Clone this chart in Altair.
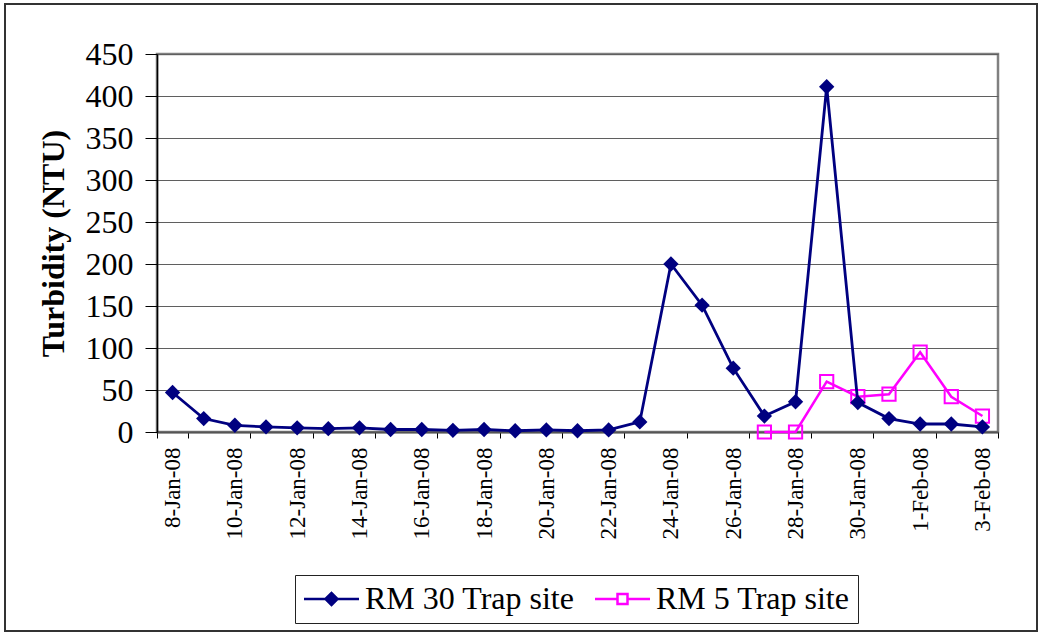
import altair as alt
import pandas as pd

# ---- data ----
dates = [
    "8-Jan-08", "9-Jan-08", "10-Jan-08", "11-Jan-08", "12-Jan-08", "13-Jan-08",
    "14-Jan-08", "15-Jan-08", "16-Jan-08", "17-Jan-08", "18-Jan-08", "19-Jan-08",
    "20-Jan-08", "21-Jan-08", "22-Jan-08", "23-Jan-08", "24-Jan-08", "25-Jan-08",
    "26-Jan-08", "27-Jan-08", "28-Jan-08", "29-Jan-08", "30-Jan-08", "31-Jan-08",
    "1-Feb-08", "2-Feb-08", "3-Feb-08",
]
rm30 = [47, 16, 8, 6, 5, 4, 5, 3, 3, 2, 3, 1.5, 2.5, 1.5, 2.5, 12, 200, 151,
        76, 19, 36, 411, 35, 16, 9.5, 9.5, 6]
rm5 = [None] * 19 + [0, 0, 60, 42, 45, 95, 42, 19]
series_names = ["RM 30 Trap site", "RM 5 Trap site"]
series_colors = ["#000080", "#FF00FF"]
y_ticks = [0, 50, 100, 150, 200, 250, 300, 350, 400, 450]
x_label_dates = dates[::2]

rows = []
for d, a, b in zip(dates, rm30, rm5):
    rows.append({"date": d, "series": series_names[0], "value": a})
    if b is not None:
        rows.append({"date": d, "series": series_names[1], "value": b})
df = pd.DataFrame(rows)

x_enc = alt.X(
    "date:O",
    sort=dates,
    bandPosition=0.5,
    scale=alt.Scale(type="band", domain=dates, paddingInner=0, paddingOuter=0),
    axis=alt.Axis(
        title=None, values=x_label_dates, labelAngle=270, labelFontSize=23,
        labelColor="black", tickBand="extent", tickSize=6, tickColor="black",
        labelPadding=9, domainColor="#555555", domainWidth=2,
    ),
)
y_enc = alt.Y(
    "value:Q",
    scale=alt.Scale(domain=[0, 450], nice=False, zero=True),
    axis=alt.Axis(
        values=y_ticks, title="Turbidity (NTU)", titleFontSize=32,
        titleFontWeight="bold", titleColor="black", labelFontSize=32,
        labelColor="black", tickSize=12, tickColor="black", labelPadding=12,
        grid=True, gridColor="#5f5f5f", gridWidth=1, domainColor="black",
        domainWidth=1.5, titleX=-94, titleY=189, titleAngle=270,
        titleAlign="center", titleBaseline="alphabetic",
    ),
)

base = alt.Chart(df).encode(x=x_enc, y=y_enc)

line5 = base.transform_filter(alt.datum.series == series_names[1]).mark_line(
    color=series_colors[1], strokeWidth=2.5)
pts5 = base.transform_filter(alt.datum.series == series_names[1]).mark_point(
    shape="square", filled=False, color=series_colors[1], size=175,
    strokeWidth=2, opacity=1)
line30 = base.transform_filter(alt.datum.series == series_names[0]).mark_line(
    color=series_colors[0], strokeWidth=2.8)
pts30 = base.transform_filter(alt.datum.series == series_names[0]).mark_point(
    shape="diamond", filled=True, color=series_colors[0], size=235, opacity=1)

# legend symbols: a short line with the marker in its middle (unit = 10 px)
path30 = "M-1.5,0H0.65M1.85,0H4M0.65,0L1.25,-0.6L1.85,0L1.25,0.6Z"
path5 = "M-1.5,0H0.75M1.75,0H4M0.75,-0.5H1.75V0.5H0.75Z"

legend_layer = (
    alt.Chart(df)
    .transform_filter("false")
    .mark_point(filled=True, opacity=1, strokeWidth=2.5)
    .encode(
        x=x_enc,
        y=y_enc,
        shape=alt.Shape("series:N", title=None,
                        scale=alt.Scale(domain=series_names, range=[path30, path5])),
        stroke=alt.Stroke("series:N", title=None,
                          scale=alt.Scale(domain=series_names, range=series_colors)),
        fill=alt.Fill("series:N", title=None,
                      scale=alt.Scale(domain=series_names, range=[series_colors[0], "white"])),
    )
)

border = alt.Chart(pd.DataFrame({"k": [0]})).mark_rect(
    filled=False, stroke="#333333", strokeWidth=2
).encode(x=alt.value(-152), x2=alt.value(880), y=alt.value(-50), y2=alt.value(577))

chart = (
    alt.layer(border, line5, pts5, line30, pts30, legend_layer)
    .properties(
        width=841, height=378,
        autosize=alt.AutoSizeParams(type="none"),
        padding={"left": 157, "top": 54, "right": 42, "bottom": 201},
        background="white",
    )
    .configure(font="Liberation Serif")
    .configure_view(stroke="#808080", strokeWidth=2.5)
    .configure_legend(
        orient="none", legendX=138, legendY=521, direction="horizontal",
        labelFontSize=32, labelColor="black", labelFont="Liberation Serif",
        symbolSize=400, symbolStrokeWidth=2.5, strokeColor="#222222",
        fillColor="white", padding=8, labelOffset=30, columnPadding=15,
        labelLimit=400,
    )
)

chart.save("out.html", embed_options={"renderer": "svg", "actions": False})
